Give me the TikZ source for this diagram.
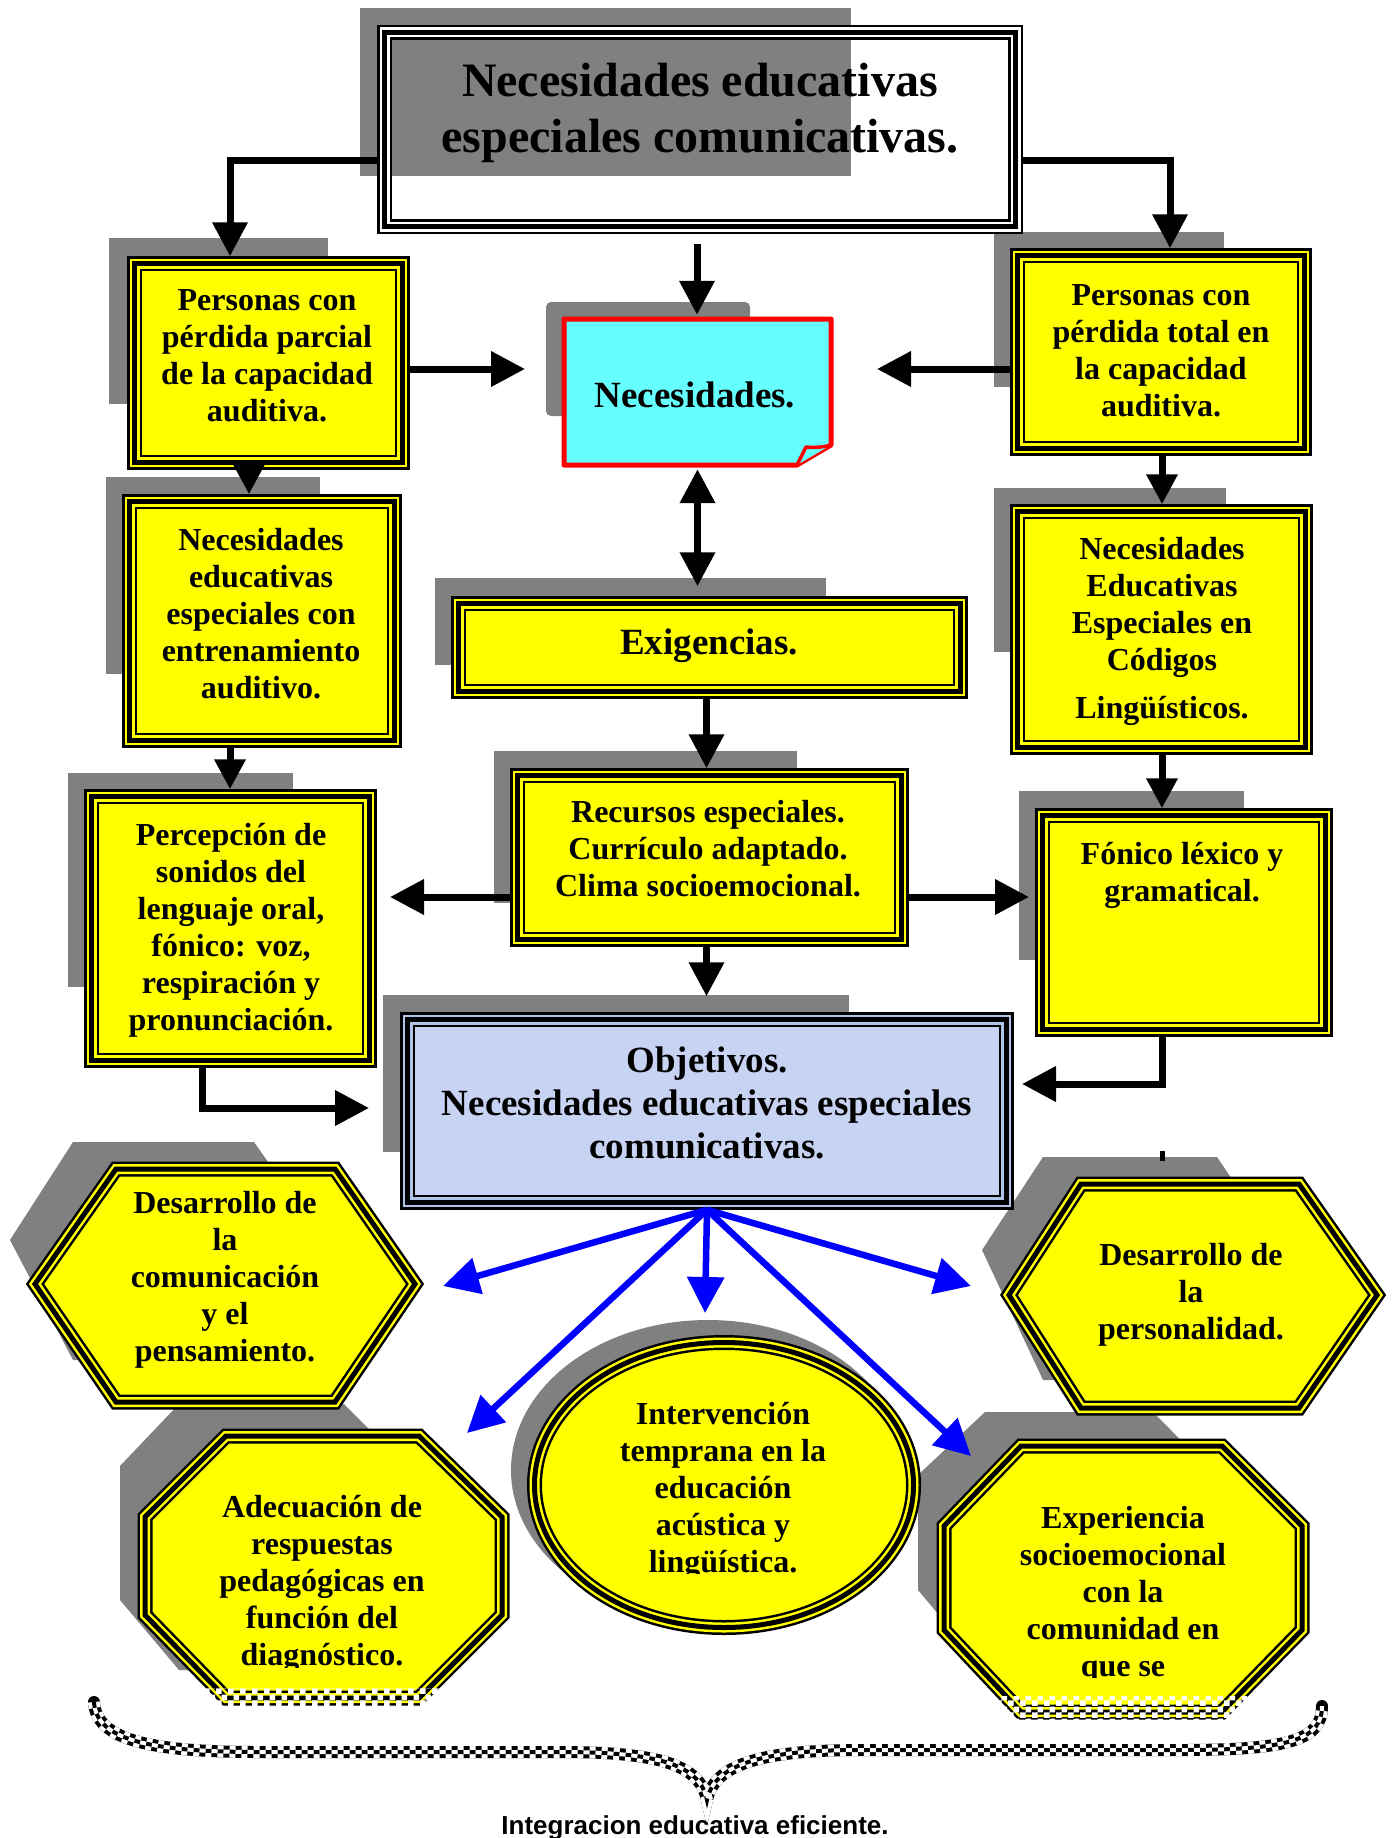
\documentclass[tikz,border=0pt]{standalone}
\usepackage{fontspec}
\setmainfont{Liberation Serif}
\newfontfamily\sansb{Liberation Sans}
\usetikzlibrary{arrows.meta,patterns,shapes.geometric}
\pgfdeclarepatternformonly{bigcheck}{\pgfpointorigin}{\pgfpoint{12pt}{12pt}}{\pgfpoint{12pt}{12pt}}{%
  \pgfpathrectangle{\pgfpointorigin}{\pgfpoint{6pt}{6pt}}%
  \pgfpathrectangle{\pgfpoint{6pt}{6pt}}{\pgfpoint{6pt}{6pt}}%
  \pgfusepath{fill}}
\definecolor{ylw}{RGB}{255,255,0}
\definecolor{shd}{RGB}{128,128,128}
\definecolor{cyanbox}{RGB}{102,255,255}
\definecolor{objfill}{RGB}{198,212,244}
\definecolor{objgap}{RGB}{176,196,232}
\definecolor{objdot}{RGB}{225,200,235}
\definecolor{pblue}{RGB}{0,0,255}
\tikzset{
  tri/.style={draw=black, line width=15pt, postaction={draw=#1, line width=10pt}, postaction={draw=black, line width=5pt}},
  boxy/.style={rectangle, inner sep=0pt, fill=ylw, tri=ylw},
  tx/.style={font=\bfseries\fontsize{32}{37}\selectfont, align=center, inner sep=0pt},
  txbig/.style={font=\bfseries\fontsize{37}{43}\selectfont, align=center, inner sep=0pt},
  arr/.style={line width=7pt, -{Triangle[length=34pt,width=34pt]}},
  arrv/.style={line width=7pt, -{Triangle[length=30pt,width=30pt]}},
  arrd/.style={line width=7pt, {Triangle[length=34pt,width=34pt]}-{Triangle[length=34pt,width=34pt]}},
  barr/.style={draw=pblue, line width=6.5pt, -{Triangle[length=36pt,width=36pt]}},
}
\begin{document}
\begin{tikzpicture}[x=1pt,y=-1pt]
\fill[white] (0,0) rectangle (1395,1838);
\useasboundingbox (0,0) rectangle (1395,1838);

% ---------- shadows
\fill[shd] (360,8) rectangle (851,176);
\fill[shd] (109,238) rectangle (328,404);
\fill[shd] (994,232) rectangle (1224,387);
\fill[shd, rounded corners=5pt] (546,302) rectangle (750,416);
\fill[shd] (435,578) rectangle (826,665);
\fill[shd] (106,477) rectangle (320,674);
\fill[shd] (994,488) rectangle (1226,652);
\fill[shd] (494,751) rectangle (797,903);
\fill[shd] (68,773) rectangle (293,987);
\fill[shd] (1019,791) rectangle (1244,960);
\fill[shd] (383,995) rectangle (849,1152);
\fill[shd] (73,1142) -- (254,1142) -- (330,1250) -- (254,1360) -- (73,1360) -- (10,1240) -- cycle;
\fill[shd] (1043,1157) -- (1217,1157) -- (1290,1265) -- (1217,1380) -- (1043,1380) -- (982,1250) -- cycle;
\fill[shd] (179,1404) -- (344,1404) -- (420,1480) -- (420,1600) -- (344,1670) -- (179,1670) -- (120,1600) -- (120,1466) -- cycle;
\fill[shd] (985,1412) -- (1153,1412) -- (1230,1490) -- (1230,1600) -- (1153,1670) -- (985,1670) -- (918,1590) -- (918,1475) -- cycle;
\fill[shd] (708,1470) ellipse [x radius=197pt, y radius=150pt];

% ---------- boxes
\node[rectangle, inner sep=0pt, tri=white, minimum width=631pt, minimum height=194pt] (title) at (700,129.5) {};
\node[boxy, minimum width=267.5pt, minimum height=198.5pt] (p1) at (268.5,363) {};
\node[boxy, minimum width=286.5pt, minimum height=192.5pt] (p2) at (1161,352) {};
\draw[red, line width=5pt, fill=cyanbox, line join=round] (564,319) -- (831,319) -- (831,445) -- (797,465) -- (564,465) -- cycle;
\draw[red, line width=3.5pt, fill=cyanbox, line join=round] (797,465) -- (806,447) .. controls (815,448) and (824,447) .. (831,445);
\node[rectangle, inner sep=0pt, minimum width=267pt, minimum height=146pt] (note) at (697.5,392) {};
\node[boxy, minimum width=501.5pt, minimum height=87.5pt] (exig) at (709.5,647.5) {};
\node[boxy, minimum width=264.5pt, minimum height=238.5pt] (neel) at (262,621) {};
\node[boxy, minimum width=287.5pt, minimum height=235.5pt] (neer) at (1161.5,629.5) {};
\node[boxy, minimum width=383.5pt, minimum height=163.5pt] (rec) at (709.5,857.5) {};
\node[boxy, minimum width=277.5pt, minimum height=263.5pt] (perc) at (230.5,928.5) {};
\node[boxy, minimum width=282.5pt, minimum height=213.5pt] (fon) at (1184,922.5) {};
\node[rectangle, inner sep=0pt, fill=objfill, tri=objgap, minimum width=598.5pt, minimum height=182.5pt] (obj) at (707,1111) {};
\fill[pattern=dots, pattern color=objdot] (417,1029) rectangle (997,1193);

% hexagons, octagons, ellipse
\draw[fill=ylw, tri=ylw] (35,1284) -- (116,1169) -- (335,1169) -- (415,1284) -- (335,1402) -- (116,1402) -- cycle;
\draw[fill=ylw, tri=ylw] (1009,1295) -- (1081,1184) -- (1299,1184) -- (1377,1295) -- (1299,1408) -- (1081,1408) -- cycle;
\draw[fill=ylw, tri=ylw] (226,1436) -- (419,1436) -- (502,1517) -- (502,1615) -- (419,1698) -- (226,1698) -- (145,1615) -- (145,1517) -- cycle;
\node[ellipse, inner sep=0pt, fill=ylw, tri=ylw, minimum width=379pt, minimum height=285pt] (ell) at (724,1485) {};
\draw[fill=ylw, tri=ylw] (1021,1446) -- (1222,1446) -- (1302,1526) -- (1302,1630) -- (1222,1712) -- (1021,1712) -- (944,1630) -- (944,1526) -- cycle;
\fill[pattern=bigcheck, pattern color=white] (200,1688) rectangle (448,1718);
\fill[pattern=bigcheck, pattern color=white] (995,1696) rectangle (1252,1728);

% ---------- black connectors
\coordinate (tl) at (230,161);
\coordinate (tr) at (1170,161);
\coordinate (tn) at (697,244);
\coordinate (nl) at (525,369);
\coordinate (nr) at (877,369);
\coordinate (rl) at (390,897);
\coordinate (rr) at (1029,897);
\coordinate (po) at (369,1108);
\coordinate (fo) at (1022,1084);
\coordinate (tk1) at (1162,1151);
\coordinate (tk2) at (1162,1161);
\draw[arr] (title.west |- tl) -- (tl) -- (tl |- p1.north);
\draw[arr] (title.east |- tr) -- (tr) -- (tr |- p2.north);
\draw[arr] (tn) -- ([yshift=4pt]tn |- note.north);
\draw[arr] (p1.east |- nl) -- (nl);
\draw[arr] (p2.west |- nr) -- (nr);
\draw[arrd] ([yshift=-4pt]note.south) -- ([yshift=10pt]note.south |- exig.north);
\draw[arr] ([xshift=-3pt]exig.south) -- ([xshift=-3pt]exig.south |- rec.north);
\draw[arr] (rec.west |- rl) -- (rl);
\draw[arr] (rec.east |- rr) -- (rr);
\draw[arr] ([xshift=-3pt]rec.south) -- ([xshift=-3pt,yshift=16pt]rec.south |- obj.north);
\draw[arrv] ([xshift=-19.5pt]p1.south) -- ([xshift=-19.5pt]p1.south |- neel.north);
\draw[arrv] ([xshift=1pt]p2.south) -- ([xshift=1pt]p2.south |- neer.north);
\draw[arrv] ([xshift=-32pt]neel.south) -- ([xshift=-32pt]neel.south |- perc.north);
\draw[arrv] ([xshift=0.5pt]neer.south) -- ([xshift=0.5pt]neer.south |- fon.north);
\draw[arr] ([xshift=-28.5pt]perc.south) |- (po);
\draw[arr] ([xshift=-22pt]fon.south) |- (fo);
\draw[line width=5pt] (tk1) -- (tk2);

% ---------- blue connectors
\coordinate (bt1) at (443,1286);
\coordinate (bt2) at (705,1313);
\coordinate (bt3) at (971,1286);
\coordinate (bt4) at (467,1433);
\coordinate (bt5) at (971,1456);
\draw[barr] (obj.south) -- (bt1);
\draw[barr] (obj.south) -- (bt2);
\draw[barr] (obj.south) -- (bt3);
\draw[barr] (obj.south) -- (bt4);
\draw[barr] (obj.south) -- (bt5);

% ---------- brace
\draw[line width=12pt, line cap=round,
  postaction={draw=white, line width=12pt, line cap=butt, dash pattern=on 6pt off 6pt},
  postaction={draw=black, line width=4pt, line cap=butt, dash pattern=on 6pt off 6pt},
  postaction={draw=white, line width=4pt, line cap=butt, dash pattern=on 6pt off 6pt, dash phase=6pt}]
  (94,1702) .. controls (96,1740) and (150,1752) .. (260,1752) -- (560,1752)
  .. controls (660,1752) and (700,1765) .. (707,1800)
  .. controls (714,1765) and (760,1750) .. (860,1750) -- (1180,1750)
  .. controls (1290,1750) and (1322,1740) .. (1322,1706);

% ---------- texts
\node[font=\bfseries\fontsize{48}{56}\selectfont, align=center, inner sep=0pt] (titlet) at (700,113) {Necesidades educativas\\especiales comunicativas.};
\node[tx] (p1t) at (267,356) {Personas con\\pérdida parcial\\de la capacidad\\auditiva.};
\node[tx] (p2t) at (1161,351) {Personas con\\pérdida total en\\la capacidad\\auditiva.};
\node[txbig] (notet) at (695,395) {Necesidades.};
\node[txbig] (exigt) at (709,646) {Exigencias.};
\node[tx] (neelt) at (261,614) {Necesidades\\educativas\\especiales con\\entrenamiento\\auditivo.};
\node[tx] (neert) at (1162,631) {Necesidades\\Educativas\\Especiales en\\Códigos\\[11pt]Lingüísticos.};
\node[tx] (rect) at (708,849) {Recursos especiales.\\Currículo adaptado.\\Clima socioemocional.};
\node[tx] (perct) at (231,930) {Percepción de\\sonidos del\\lenguaje oral,\\fónico: voz,\\respiración y\\pronunciación.};
\node[tx] (font) at (1182,875) {Fónico léxico y\\gramatical.};
\node[txbig] (objt) at (707,1103) {Objetivos.\\Necesidades educativas especiales\\comunicativas.};
\node[tx] (hexlt) at (225,1280) {Desarrollo de\\la\\comunicación\\y el\\pensamiento.};
\node[tx] (hexrt) at (1191,1295) {Desarrollo de\\la\\personalidad.};
\begin{scope}
\clip (0,0) rectangle (1395,1667);
\node[tx] (octlt) at (322,1584) {Adecuación de\\respuestas\\pedagógicas en\\función del\\diagnóstico.};
\end{scope}
\begin{scope}
\clip (0,0) rectangle (1395,1573);
\node[tx] (ellt) at (723,1491) {Intervención\\temprana en la\\educación\\acústica y\\lingüística.};
\end{scope}
\begin{scope}
\clip (0,0) rectangle (1395,1677);
\node[tx] (octrt) at (1123,1595) {Experiencia\\socioemocional\\con la\\comunidad en\\que se};
\end{scope}
\node[font=\sansb\bfseries\fontsize{26}{30}\selectfont, anchor=base, inner sep=0pt] (integ) at (695,1834) {Integracion educativa eficiente.};
\end{tikzpicture}
\end{document}
